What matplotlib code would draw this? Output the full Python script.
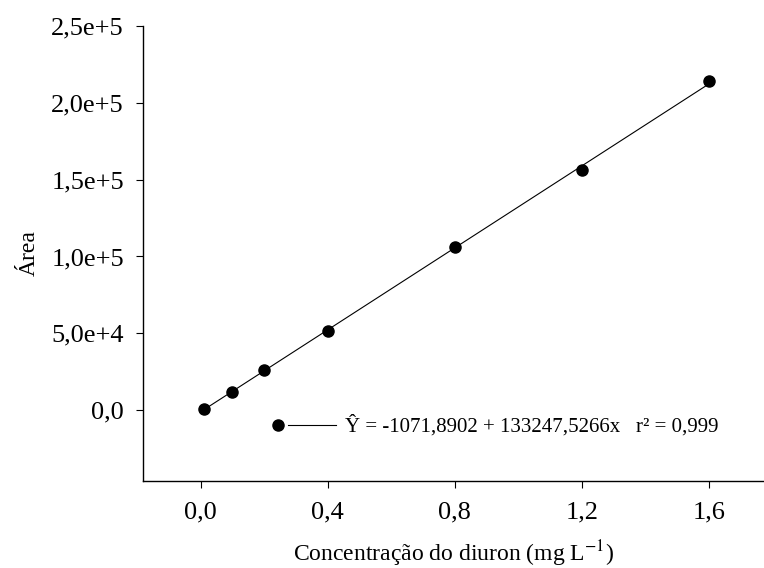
import numpy as np
import matplotlib
matplotlib.use("Agg")
import matplotlib.pyplot as plt
from matplotlib.lines import Line2D
from matplotlib.legend_handler import HandlerLine2D
from matplotlib.ticker import FuncFormatter

plt.rcParams['font.family'] = ['Liberation Serif', 'DejaVu Serif']
plt.rcParams['mathtext.fontset'] = 'stix'

# data
conc = [0.01, 0.1, 0.2, 0.4, 0.8, 1.2, 1.6]
area = [800, 11700, 26000, 51800, 106000, 156500, 214300]
intercept = -1071.8902
slope = 133247.5266
x_ticks = [0.0, 0.4, 0.8, 1.2, 1.6]
y_ticks = [0, 50000, 100000, 150000, 200000, 250000]
eq_label = "Ŷ = -1071,8902 + 133247,5266x   r² = 0,999"


def fmt_x(v, pos):
    return f"{v:.1f}".replace(".", ",")


def fmt_y(v, pos):
    if v == 0:
        return "0,0"
    e = int(np.floor(np.log10(abs(v))))
    m = v / 10**e
    return f"{m:.1f}".replace(".", ",") + f"e+{e}"


# legend: marker on the left, line after it
class DotThenLine(HandlerLine2D):
    def create_artists(self, legend, orig_handle, xdescent, ydescent,
                       width, height, fontsize, trans):
        y = height / 2 - ydescent
        x0 = -xdescent
        ln = Line2D([x0 + 7, x0 + width], [y, y], color="black", lw=0.8)
        dot = Line2D([x0], [y], marker="o", ms=8, color="black", ls="none")
        ln.set_transform(trans)
        dot.set_transform(trans)
        return [ln, dot]


fig = plt.figure(figsize=(7.64, 5.68), dpi=100)
ax = fig.add_axes([0.1876, 0.1537, 0.8124, 0.8009])

xs = np.array([min(conc), max(conc)])
ax.plot(xs, intercept + slope * xs, color="black", lw=0.8)
ax.plot(conc, area, "o", color="black", ms=8)

ax.set_xlim(-0.18, 1.774)
ax.set_ylim(-45800, 250000)
ax.set_xticks(x_ticks)
ax.set_yticks(y_ticks)
ax.xaxis.set_major_formatter(FuncFormatter(fmt_x))
ax.yaxis.set_major_formatter(FuncFormatter(fmt_y))

ax.spines["top"].set_visible(False)
ax.spines["right"].set_visible(False)
for s in ["left", "bottom"]:
    ax.spines[s].set_linewidth(1.0)
ax.tick_params(direction="out", length=5, width=0.8, labelsize=19)
ax.tick_params(axis="y", pad=9)
ax.tick_params(axis="x", pad=10)

ax.set_xlabel("Concentração do diuron (mg L$^{-1}$)", fontsize=17, labelpad=11)
ax.set_ylabel("Área", fontsize=17, labelpad=8.5)

h = Line2D([], [], color="black", marker="o")
ax.legend([h], [eq_label], handler_map={h: DotThenLine()},
          loc="center left", bbox_to_anchor=(0.217, 0.12),
          frameon=False, borderpad=0, borderaxespad=0,
          handlelength=2.8, handletextpad=0.4, fontsize=15)

fig.savefig("out.png", dpi=100)
